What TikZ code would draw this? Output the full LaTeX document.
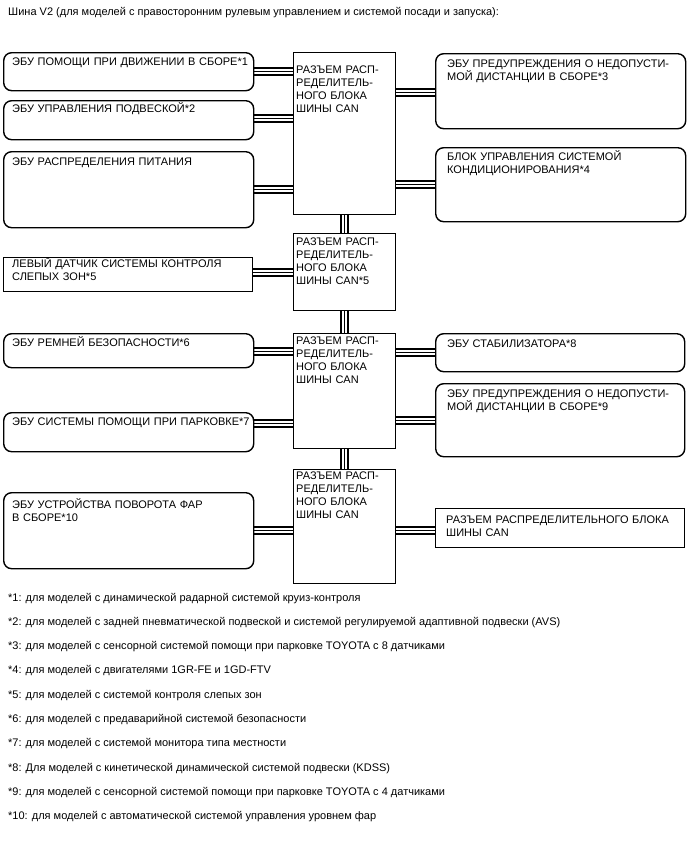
\documentclass[tikz,border=0pt]{standalone}
\usepackage{fontspec}
\setmainfont{Liberation Sans}
\usetikzlibrary{backgrounds}
\begin{document}
\begin{tikzpicture}[x=1pt,y=-1pt,
  box/.style={draw, line width=1.4pt, rounded corners=8pt, inner sep=0pt, anchor=north west, minimum width=250pt},
  sbox/.style={draw, line width=1.4pt, inner sep=0pt, anchor=north west},
  cbox/.style={sbox, minimum width=102pt},
  txt/.style={inner sep=0pt, anchor=base west, align=left, text width=#1, font=\fontsize{11}{13.3}\selectfont},
  txt/.default=240pt,
  note/.style={inner sep=0pt, anchor=base west, font=\fontsize{11}{13}\selectfont},
  bus/.style={line width=1pt, preaction={draw=white, line width=4.6pt, preaction={draw=black, line width=8.6pt}}},
]
\useasboundingbox (0,0) rectangle (688,852);

% title
\node[note] (title) at (8,15) {Шина V2 (для моделей с правосторонним рулевым управлением и системой посади и запуска):};

% central connector boxes
\node[cbox, minimum height=162pt] (c1) at (293,52) {};
\node[cbox, minimum height=77pt] (c2) at (293,233) {};
\node[cbox, minimum height=115pt] (c3) at (293,333) {};
\node[cbox, minimum height=114pt] (c4) at (293,469) {};

% left boxes
\node[box, minimum height=38pt] (l1) at (3,52) {};
\node[box, minimum height=39pt] (l2) at (3,100) {};
\node[box, minimum height=76pt] (l3) at (3,151) {};
\node[sbox, minimum width=249pt, minimum height=34pt] (l5) at (3,257) {};
\node[box, minimum height=34pt] (l6) at (3,333) {};
\node[box, minimum height=39pt] (l7) at (3,412) {};
\node[box, minimum height=76pt] (l10) at (3,492) {};

% right boxes
\node[box, minimum height=75pt] (r1) at (435,53) {};
\node[box, minimum height=74pt] (r2) at (435,147) {};
\node[box, minimum width=249pt, minimum height=38pt] (r8) at (435,333) {};
\node[box, minimum width=249pt, minimum height=73pt] (r9) at (435,383) {};
\node[sbox, minimum width=249pt, minimum height=39pt] (r10) at (435,508) {};

% texts
\node[txt] (tl1) at ([xshift=9pt,yshift=-13pt]l1.north west) {ЭБУ ПОМОЩИ ПРИ ДВИЖЕНИИ В СБОРЕ*1};
\node[txt] (tl2) at ([xshift=9pt,yshift=-12pt]l2.north west) {ЭБУ УПРАВЛЕНИЯ ПОДВЕСКОЙ*2};
\node[txt] (tl3) at ([xshift=9pt,yshift=-14pt]l3.north west) {ЭБУ РАСПРЕДЕЛЕНИЯ ПИТАНИЯ};
\node[txt] (tl5) at ([xshift=9pt,yshift=-10pt]l5.north west) {ЛЕВЫЙ ДАТЧИК СИСТЕМЫ КОНТРОЛЯ\\СЛЕПЫХ ЗОН*5};
\node[txt] (tl6) at ([xshift=9pt,yshift=-13pt]l6.north west) {ЭБУ РЕМНЕЙ БЕЗОПАСНОСТИ*6};
\node[txt] (tl7) at ([xshift=9pt,yshift=-13pt]l7.north west) {ЭБУ СИСТЕМЫ ПОМОЩИ ПРИ ПАРКОВКЕ*7};
\node[txt] (tl10) at ([xshift=9pt,yshift=-16pt]l10.north west) {ЭБУ УСТРОЙСТВА ПОВОРОТА ФАР\\В СБОРЕ*10};

\node[txt=98pt] (tc1) at ([xshift=3pt,yshift=-21pt]c1.north west) {РАЗЪЕМ РАСП-\\РЕДЕЛИТЕЛЬ-\\НОГО БЛОКА\\ШИНЫ CAN};
\node[txt=98pt] (tc2) at ([xshift=3pt,yshift=-12pt]c2.north west) {РАЗЪЕМ РАСП-\\РЕДЕЛИТЕЛЬ-\\НОГО БЛОКА\\ШИНЫ CAN*5};
\node[txt=98pt] (tc3) at ([xshift=3pt,yshift=-11pt]c3.north west) {РАЗЪЕМ РАСП-\\РЕДЕЛИТЕЛЬ-\\НОГО БЛОКА\\ШИНЫ CAN};
\node[txt=98pt] (tc4) at ([xshift=3pt,yshift=-10pt]c4.north west) {РАЗЪЕМ РАСП-\\РЕДЕЛИТЕЛЬ-\\НОГО БЛОКА\\ШИНЫ CAN};

\node[txt] (tr1) at ([xshift=12pt,yshift=-14pt]r1.north west) {ЭБУ ПРЕДУПРЕЖДЕНИЯ О НЕДОПУСТИ-\\МОЙ ДИСТАНЦИИ В СБОРЕ*3};
\node[txt] (tr2) at ([xshift=12pt,yshift=-13pt]r2.north west) {БЛОК УПРАВЛЕНИЯ СИСТЕМОЙ\\КОНДИЦИОНИРОВАНИЯ*4};
\node[txt] (tr8) at ([xshift=12pt,yshift=-14pt]r8.north west) {ЭБУ СТАБИЛИЗАТОРА*8};
\node[txt] (tr9) at ([xshift=12pt,yshift=-14pt]r9.north west) {ЭБУ ПРЕДУПРЕЖДЕНИЯ О НЕДОПУСТИ-\\МОЙ ДИСТАНЦИИ В СБОРЕ*9};
\node[txt] (tr10) at ([xshift=11pt,yshift=-15pt]r10.north west) {РАЗЪЕМ РАСПРЕДЕЛИТЕЛЬНОГО БЛОКА\\ШИНЫ CAN};

% footnotes
\node[note] (n1) at (8,601) {*1: для моделей с динамической радарной системой круиз-контроля};
\node[note] (n2) at (8,625) {*2: для моделей с задней пневматической подвеской и системой регулируемой адаптивной подвески (AVS)};
\node[note] (n3) at (8,649.5) {*3: для моделей с сенсорной системой помощи при парковке TOYOTA с 8 датчиками};
\node[note] (n4) at (8,673.5) {*4: для моделей с двигателями 1GR-FE и 1GD-FTV};
\node[note] (n5) at (8,698) {*5: для моделей с системой контроля слепых зон};
\node[note] (n6) at (8,722) {*6: для моделей с предаварийной системой безопасности};
\node[note] (n7) at (8,746.5) {*7: для моделей с системой монитора типа местности};
\node[note] (n8) at (8,771) {*8: Для моделей с кинетической динамической системой подвески (KDSS)};
\node[note] (n9) at (8,795) {*9: для моделей с сенсорной системой помощи при парковке TOYOTA с 4 датчиками};
\node[note] (n10) at (8,819) {*10: для моделей с автоматической системой управления уровнем фар};

% connector anchor points
\coordinate (k1) at (l1.east);
\coordinate (k2) at ([yshift=2pt]l2.east);
\coordinate (k3) at (l3.east);
\coordinate (k5) at ([yshift=2pt]l5.east);
\coordinate (k6) at ([yshift=-1pt]l6.east);
\coordinate (k7) at ([yshift=9pt]l7.east);
\coordinate (k10) at (l10.east);
\coordinate (q1) at ([yshift=-1.5pt]r1.west);
\coordinate (q2) at (r2.west);
\coordinate (q8) at (r8.west);
\coordinate (q9) at (r9.west);
\coordinate (q10) at ([yshift=-2.5pt]r10.west);

\begin{scope}[on background layer]
\draw[bus] (k1) -- (k1 -| c1.west);
\draw[bus] (k2) -- (k2 -| c1.west);
\draw[bus] (k3) -- (k3 -| c1.west);
\draw[bus] (c1.east |- q1) -- (q1);
\draw[bus] (c1.east |- q2) -- (q2);
\draw[bus] (k5) -- (k5 -| c2.west);
\draw[bus] (k6) -- (k6 -| c3.west);
\draw[bus] (k7) -- (k7 -| c3.west);
\draw[bus] (c3.east |- q8) -- (q8);
\draw[bus] (c3.east |- q9) -- (q9);
\draw[bus] (k10) -- (k10 -| c4.west);
\draw[bus] (c4.east |- q10) -- (q10);
\draw[bus] (c1.south) -- (c2.north);
\draw[bus] (c2.south) -- (c3.north);
\draw[bus] (c3.south) -- (c4.north);
\end{scope}
\end{tikzpicture}
\end{document}
